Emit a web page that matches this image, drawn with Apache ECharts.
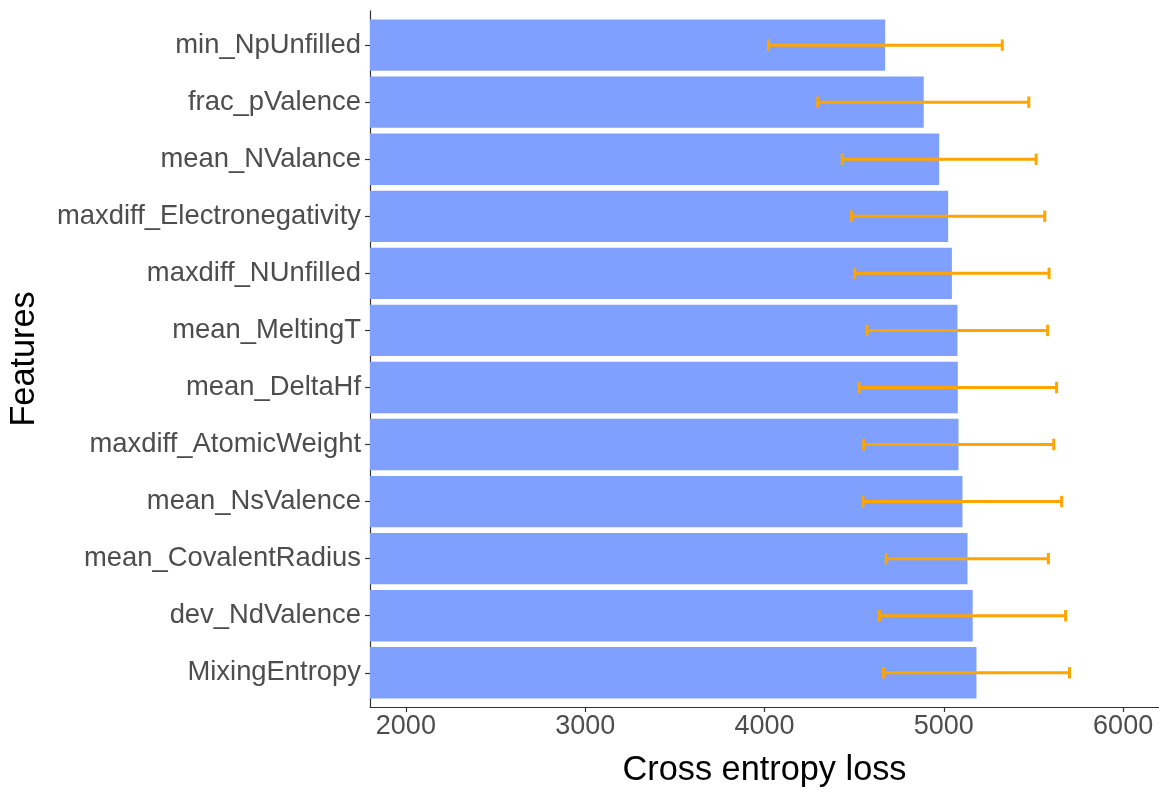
<!DOCTYPE html>
<html>
<head>
<meta charset="utf-8">
<script src="https://cdn.jsdelivr.net/npm/echarts@6.0.0/dist/echarts.min.js"></script>
<style>
html,body{margin:0;padding:0;background:#fff;}
#chart{width:1159px;height:793px;}
</style>
</head>
<body>
<div id="chart"></div>
<script>
const features = ['min_NpUnfilled','frac_pValence','mean_NValance','maxdiff_Electronegativity','maxdiff_NUnfilled','mean_MeltingT','mean_DeltaHf','maxdiff_AtomicWeight','mean_NsValence','mean_CovalentRadius','dev_NdValence','MixingEntropy'];
const loss  = [4673, 4888, 4974, 5024, 5045, 5076, 5078, 5082, 5104, 5132, 5161, 5182];
const lower = [4022, 4297, 4434, 4486, 4503, 4572, 4527, 4553, 4549, 4679, 4641, 4664];
const upper = [5326, 5474, 5515, 5563, 5587, 5579, 5629, 5613, 5657, 5583, 5679, 5701];
const xTicks = [2000, 3000, 4000, 5000, 6000];
const X_MIN = 1800, X_MAX = 6200;

const positions = features.map((f, i) => i + 1);
const barData = features.map((f, i) => [positions[i], loss[i]]);
const errData = features.map((f, i) => [positions[i], lower[i], upper[i]]);

const chart = echarts.init(document.getElementById('chart'), null, {renderer: 'canvas'});
const FONT = "'Liberation Sans', Arial, Helvetica, sans-serif";

chart.setOption({
  animation: false,
  backgroundColor: '#ffffff',
  grid: {left: 369, right: -3, top: 10.9, bottom: 81.6, containLabel: false},
  xAxis: {
    type: 'value', min: X_MIN, max: X_MAX,
    name: 'Cross entropy loss', nameLocation: 'middle', nameGap: 47,
    nameTextStyle: {fontFamily: FONT, fontSize: 34.3, color: '#000'},
    axisLine: {show: true, lineStyle: {color: '#333', width: 1.2}},
    axisTick: {show: true, length: 5, customValues: xTicks, lineStyle: {color: '#333', width: 1.2}},
    axisLabel: {customValues: xTicks, margin: 6.4, fontFamily: FONT, fontSize: 27, color: '#4D4D4D',
      formatter: v => String(v)},
    splitLine: {show: false}
  },
  yAxis: {
    type: 'value', inverse: true, min: 0.4, max: 12.6,
    name: 'Features', nameLocation: 'middle', nameGap: 328, nameRotate: 90,
    nameTextStyle: {fontFamily: FONT, fontSize: 34.3, color: '#000'},
    axisLine: {show: true, lineStyle: {color: '#333', width: 1.2}},
    axisTick: {show: true, length: 5, customValues: positions, lineStyle: {color: '#333', width: 1.2}},
    axisLabel: {customValues: positions, margin: 9, fontFamily: FONT, fontSize: 27.4, color: '#4D4D4D',
      formatter: v => features[Math.round(v) - 1] || ''},
    splitLine: {show: false}
  },
  series: [
    {
      type: 'custom',
      data: barData,
      encode: {x: 1, y: 0},
      clip: true,
      z: 2,
      renderItem: function (params, api) {
        const pos = api.value(0), v = api.value(1);
        const start = api.coord([X_MIN, pos]);
        const end = api.coord([v, pos]);
        const h = api.size([0, 0.9])[1];
        return {
          type: 'rect',
          shape: {x: start[0], y: start[1] - h / 2, width: end[0] - start[0], height: h},
          style: {fill: '#80A0FF'}
        };
      }
    },
    {
      type: 'custom',
      data: errData,
      encode: {x: [1, 2], y: 0},
      z: 3,
      renderItem: function (params, api) {
        const pos = api.value(0);
        const a = api.coord([api.value(1), pos]);
        const b = api.coord([api.value(2), pos]);
        const cap = api.size([0, 0.2])[1] / 2;
        const st = {stroke: '#FFA500', lineWidth: 3};
        return {
          type: 'group',
          children: [
            {type: 'line', shape: {x1: a[0], y1: a[1], x2: b[0], y2: b[1]}, style: st},
            {type: 'line', shape: {x1: a[0], y1: a[1] - cap, x2: a[0], y2: a[1] + cap}, style: st},
            {type: 'line', shape: {x1: b[0], y1: b[1] - cap, x2: b[0], y2: b[1] + cap}, style: st}
          ]
        };
      }
    }
  ]
});
</script>
</body>
</html>
